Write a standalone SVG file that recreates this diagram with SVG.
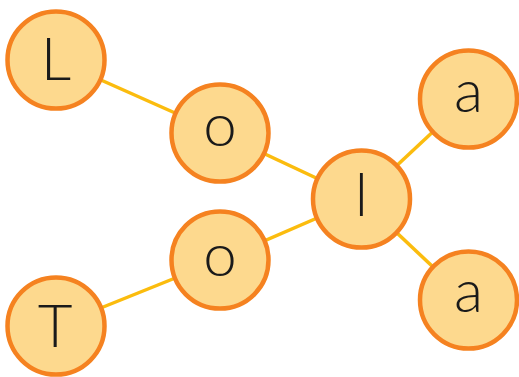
<svg xmlns="http://www.w3.org/2000/svg" width="519" height="377" viewBox="0 0 519 377">
<style>
.edge{stroke:#FBBC0E;stroke-width:3.5;fill:none}
.node circle{fill:#FDD98E;stroke:#F58220;stroke-width:4.5}
.node text{font-family:Lato,"Open Sans",sans-serif;font-size:60px;font-weight:300;fill:#1a1a1a;text-anchor:middle}
</style>
<rect width="519" height="377" fill="#ffffff"/>
<g id="connectors">
<line class="edge" x1="56" y1="60" x2="220" y2="133"/>
<line class="edge" x1="220" y1="133" x2="361" y2="199"/>
<line class="edge" x1="220" y1="260" x2="361" y2="199"/>
<line class="edge" x1="56" y1="326" x2="220" y2="260"/>
<line class="edge" x1="361" y1="199" x2="468" y2="99"/>
<line class="edge" x1="361" y1="199" x2="468" y2="300"/>
</g>
<g id="node-L" class="node"><circle cx="56" cy="60" r="48.5"/><text x="56" y="80">L</text></g>
<g id="node-o1" class="node"><circle cx="220" cy="133" r="48.5"/><text x="220" y="146">o</text></g>
<g id="node-l" class="node"><circle cx="361.5" cy="199" r="48.5"/><text x="361.5" y="216">l</text></g>
<g id="node-a1" class="node"><circle cx="468.5" cy="99" r="48.5"/><text x="468.5" y="112">a</text></g>
<g id="node-o2" class="node"><circle cx="220" cy="260" r="48.5"/><text x="220" y="276">o</text></g>
<g id="node-T" class="node"><circle cx="56" cy="326" r="48.5"/><text x="55" y="347">T</text></g>
<g id="node-a2" class="node"><circle cx="468.5" cy="300" r="48.5"/><text x="468.5" y="312">a</text></g>
</svg>
